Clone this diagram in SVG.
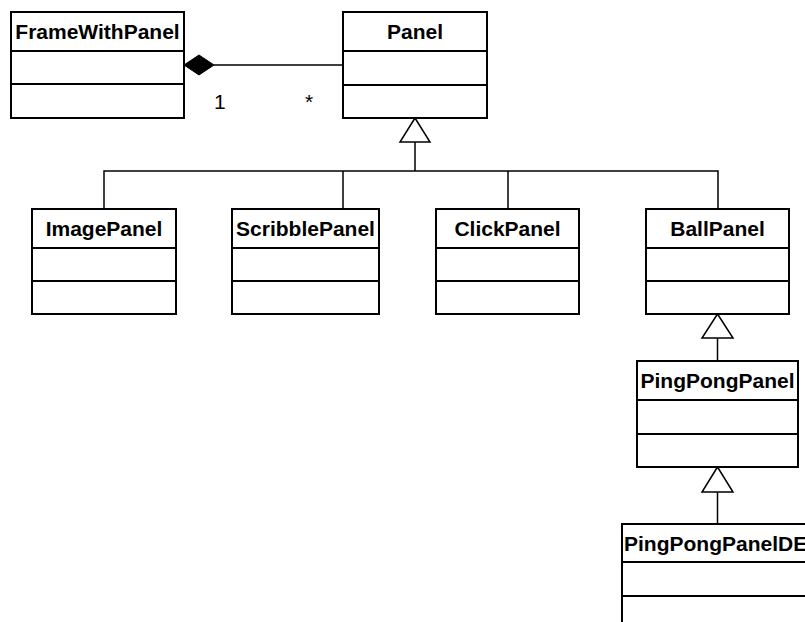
<svg xmlns="http://www.w3.org/2000/svg" width="805" height="622" viewBox="0 0 805 622">
  <style>
    .box { fill: #ffffff; stroke: #000000; stroke-width: 2; }
    .div { stroke: #000000; stroke-width: 2; }
    .name { font-family: "Liberation Sans", Arial, sans-serif; font-size: 21px; font-weight: bold; fill: #000000; text-anchor: middle; }
    .mult { font-family: "Liberation Sans", Arial, sans-serif; font-size: 21px; fill: #000000; }
    .line { fill: none; stroke: #000000; stroke-width: 1.5; }
    .tri { fill: #ffffff; stroke: #000000; stroke-width: 1.5; }
    .dia { fill: #000000; stroke: #000000; stroke-width: 1; }
  </style>
  <rect width="805" height="622" fill="#ffffff"/>

  <!-- connectors -->
  <g id="connectors">
    <!-- composition FrameWithPanel to Panel -->
    <line class="line" x1="214" y1="65" x2="343" y2="65"/>
    <polygon class="dia" points="184,65 199,55 214,65 199,75"/>
    <text class="mult" x="214" y="109">1</text>
    <text class="mult" x="305" y="109">*</text>
    <!-- generalization tree under Panel -->
    <path class="line" d="M104,209 V171 H718 V209 M343,209 V171 M508,209 V171 M415,171 V142"/>
    <polygon class="tri" points="415,118 400,142 430,142"/>
    <!-- BallPanel to PingPongPanel -->
    <line class="line" x1="717.5" y1="338" x2="717.5" y2="361"/>
    <polygon class="tri" points="717.5,314 702,338 733,338"/>
    <!-- PingPongPanel to PingPongPanelDE -->
    <line class="line" x1="717.5" y1="492" x2="717.5" y2="524"/>
    <polygon class="tri" points="717.5,467 702,492 733,492"/>
  </g>

  <g id="FrameWithPanel">
    <rect class="box" x="11" y="12" width="173" height="106"/>
    <line class="div" x1="11" y1="51" x2="184" y2="51"/>
    <line class="div" x1="11" y1="84" x2="184" y2="84"/>
    <text class="name" x="97.5" y="39">FrameWithPanel</text>
  </g>

  <g id="Panel">
    <rect class="box" x="343" y="12" width="144" height="106"/>
    <line class="div" x1="343" y1="51" x2="487" y2="51"/>
    <line class="div" x1="343" y1="85" x2="487" y2="85"/>
    <text class="name" x="415" y="39">Panel</text>
  </g>

  <g id="ImagePanel">
    <rect class="box" x="32" y="209" width="144" height="105"/>
    <line class="div" x1="32" y1="248" x2="176" y2="248"/>
    <line class="div" x1="32" y1="281" x2="176" y2="281"/>
    <text class="name" x="104" y="236">ImagePanel</text>
  </g>

  <g id="ScribblePanel">
    <rect class="box" x="232" y="209" width="147" height="105"/>
    <line class="div" x1="232" y1="248" x2="379" y2="248"/>
    <line class="div" x1="232" y1="281" x2="379" y2="281"/>
    <text class="name" x="305.5" y="236">ScribblePanel</text>
  </g>

  <g id="ClickPanel">
    <rect class="box" x="436" y="209" width="143" height="105"/>
    <line class="div" x1="436" y1="248" x2="579" y2="248"/>
    <line class="div" x1="436" y1="281" x2="579" y2="281"/>
    <text class="name" x="507.5" y="236">ClickPanel</text>
  </g>

  <g id="BallPanel">
    <rect class="box" x="646" y="209" width="143" height="105"/>
    <line class="div" x1="646" y1="248" x2="789" y2="248"/>
    <line class="div" x1="646" y1="281" x2="789" y2="281"/>
    <text class="name" x="717.5" y="236">BallPanel</text>
  </g>

  <g id="PingPongPanel">
    <rect class="box" x="637" y="361" width="161" height="106"/>
    <line class="div" x1="637" y1="400" x2="798" y2="400"/>
    <line class="div" x1="637" y1="434" x2="798" y2="434"/>
    <text class="name" x="717.5" y="388">PingPongPanel</text>
  </g>

  <g id="PingPongPanelDE">
    <rect class="box" x="622" y="524" width="220" height="120"/>
    <line class="div" x1="622" y1="562" x2="842" y2="562"/>
    <line class="div" x1="622" y1="596" x2="842" y2="596"/>
    <text class="name" x="624" y="551" style="text-anchor: start">PingPongPanelDE</text>
  </g>
</svg>
